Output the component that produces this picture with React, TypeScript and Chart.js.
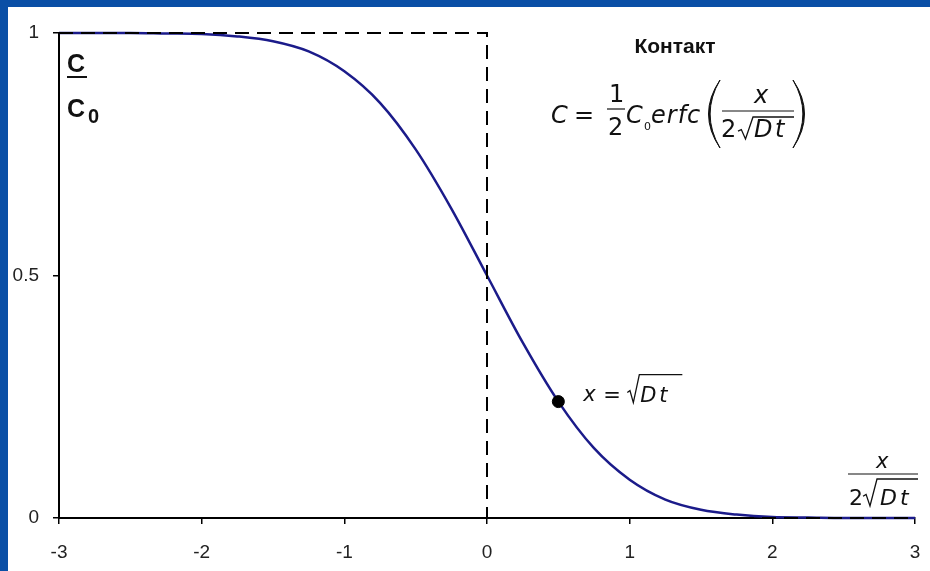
import React, { useEffect, useRef } from "react";
import { Chart, registerables } from "chart.js";

Chart.register(...registerables);

// Normalised concentration C/C0 across the contact, sampled every 0.25 of x/(2√Dt)
const xValues = [
  -3, -2.75, -2.5, -2.25, -2, -1.75, -1.5, -1.25, -1, -0.75, -0.5, -0.25, 0,
  0.25, 0.5, 0.75, 1, 1.25, 1.5, 1.75, 2, 2.25, 2.5, 2.75, 3,
];
const concentration = [
  1, 1, 1, 0.999, 0.998, 0.993, 0.983, 0.962, 0.921, 0.856, 0.76, 0.638, 0.5,
  0.362, 0.24, 0.144, 0.079, 0.038, 0.017, 0.007, 0.002, 0.001, 0, 0, 0,
];

// Initial step profile (dashed)
const stepX = [-3, 0, 0, 3];
const stepY = [1, 1, 0, 0];

// Marked point x = √Dt
const markerX = [0.5];
const markerY = [0.24];

// Tick labels
const xTickValues = [-3, -2, -1, 0, 1, 2, 3];
const xTickLabels = ["-3", "-2", "-1", "0", "1", "2", "3"];
const yTickValues = [0, 0.5, 1];
const yTickLabels = ["0", "0.5", "1"];

const title = "Контакт";

const INK = "#111";
const MATH_FONT = '"DejaVu Sans", Verdana, sans-serif';

function radical(ctx: CanvasRenderingContext2D, x0: number, w: number, yBottom: number, yTop: number, xEnd: number) {
  const h = yBottom - yTop;
  ctx.beginPath();
  ctx.moveTo(x0, yBottom - 0.36 * h);
  ctx.lineTo(x0 + 0.22 * w, yBottom - 0.43 * h);
  ctx.lineTo(x0 + 0.5 * w, yBottom);
  ctx.lineTo(x0 + w, yTop);
  ctx.lineTo(xEnd, yTop);
  ctx.lineWidth = 1.3;
  ctx.strokeStyle = INK;
  ctx.stroke();
}

function paren(ctx: CanvasRenderingContext2D, xEnd: number, xBelly: number, yTop: number, yBot: number) {
  const mid = (yTop + yBot) / 2;
  const inner = xBelly + (xEnd - xBelly) * 0.14;
  ctx.beginPath();
  ctx.moveTo(xEnd, yTop);
  ctx.quadraticCurveTo(xBelly, mid, xEnd, yBot);
  ctx.quadraticCurveTo(inner, mid, xEnd, yTop);
  ctx.fillStyle = INK;
  ctx.fill();
  ctx.lineWidth = 1;
  ctx.strokeStyle = INK;
  ctx.stroke();
}

function hline(ctx: CanvasRenderingContext2D, x1: number, x2: number, y: number, w = 1.2) {
  ctx.beginPath();
  ctx.moveTo(x1, y);
  ctx.lineTo(x2, y);
  ctx.lineWidth = w;
  ctx.strokeStyle = INK;
  ctx.stroke();
}

function text(ctx: CanvasRenderingContext2D, s: string, x: number, y: number, font: string, align: CanvasTextAlign = "left", spacing = "0px") {
  ctx.font = font;
  ctx.textAlign = align;
  ctx.textBaseline = "alphabetic";
  ctx.fillStyle = INK;
  (ctx as any).letterSpacing = spacing;
  ctx.fillText(s, x, y);
  (ctx as any).letterSpacing = "0px";
}

const slidePlugin = {
  id: "slide",
  beforeDraw(chart: Chart) {
    const ctx = chart.ctx;
    ctx.save();
    ctx.fillStyle = "#0a4fa6";
    ctx.fillRect(0, 0, chart.width, chart.height);
    ctx.fillStyle = "#ffffff";
    ctx.fillRect(8, 7, chart.width - 8, chart.height - 7);
    ctx.restore();
  },
  afterDraw(chart: Chart) {
    const ctx = chart.ctx;
    const xs = chart.scales.x;
    const ys = chart.scales.y;
    ctx.save();

    // C / C0 axis caption
    text(ctx, "C", 67, 72, 'bold 25px "Liberation Sans", Arial, sans-serif');
    hline(ctx, 67, 87, 77, 2);
    text(ctx, "C", 67, 117, 'bold 25px "Liberation Sans", Arial, sans-serif');
    text(ctx, "0", 88, 123, 'bold 20px "Liberation Sans", Arial, sans-serif');

    // Title
    text(ctx, title, 675, 53, 'bold 21px "Liberation Sans", Arial, sans-serif', "center");

    // C = 1/2 C0 erfc( x / 2√(Dt) )
    const it24 = `italic 24px ${MATH_FONT}`;
    const up24 = `24px ${MATH_FONT}`;
    text(ctx, "C", 551, 123, it24);
    text(ctx, "=", 574, 123, up24);
    text(ctx, "1", 609, 102, up24);
    hline(ctx, 607, 625, 109);
    text(ctx, "2", 608, 135, up24);
    text(ctx, "C", 626, 123, it24);
    text(ctx, "0", 644, 130, `11px ${MATH_FONT}`);
    text(ctx, "erfc", 651, 123, it24, "left", "1px");
    paren(ctx, 720, 697, 80, 148);
    text(ctx, "x", 754, 103, it24);
    hline(ctx, 722, 794, 111);
    text(ctx, "2", 721, 137, up24);
    radical(ctx, 738, 15, 139, 117, 794);
    text(ctx, "D", 754, 137, it24);
    text(ctx, "t", 775, 137, it24);
    paren(ctx, 793, 816, 80, 148);

    // x = √(Dt) next to the marked point
    const px = xs.getPixelForValue(markerX[0]);
    const py = ys.getPixelForValue(markerY[0]);
    const it21 = `italic 21px ${MATH_FONT}`;
    text(ctx, "x", px + 25, py - 1, it21);
    text(ctx, "=", px + 45, py, `21px ${MATH_FONT}`);
    radical(ctx, px + 69, 12, py + 1, py - 27, px + 124);
    text(ctx, "D", px + 82, py, it21);
    text(ctx, "t", px + 101, py, it21);

    // Axis variable x / 2√(Dt)
    text(ctx, "x", 876, 468, `italic 21px ${MATH_FONT}`);
    hline(ctx, 848, 918, 474);
    text(ctx, "2", 849, 505, `22px ${MATH_FONT}`);
    radical(ctx, 863, 14, 506, 479, 918);
    text(ctx, "D", 880, 505, `italic 22px ${MATH_FONT}`);
    text(ctx, "t", 900, 505, `italic 22px ${MATH_FONT}`);

    ctx.restore();
  },
};

export default function App() {
  const canvasRef = useRef<HTMLCanvasElement | null>(null);

  useEffect(() => {
    const canvas = canvasRef.current;
    if (!canvas) return;

    const tickFont = { family: '"Liberation Sans", Arial, sans-serif', size: 19 };

    const chart = new Chart(canvas, {
      type: "line",
      data: {
        datasets: [
          {
            label: "x = √Dt",
            data: markerX.map((x, i) => ({ x, y: markerY[i] })),
            showLine: false,
            pointRadius: 6,
            pointBackgroundColor: "#000",
            pointBorderColor: "#000",
          },
          {
            label: "step",
            data: stepX.map((x, i) => ({ x, y: stepY[i] })),
            borderColor: "#000",
            borderWidth: 2,
            borderDash: [14, 8],
            pointRadius: 0,
            tension: 0,
            clip: false,
          },
          {
            label: "C/C0",
            data: xValues.map((x, i) => ({ x, y: concentration[i] })),
            borderColor: "#1b1b8a",
            borderWidth: 2.5,
            pointRadius: 0,
            cubicInterpolationMode: "monotone",
            clip: false,
          },
        ],
      },
      options: {
        responsive: false,
        animation: false,
        events: [],
        layout: { padding: { left: 8, top: 33, right: 15, bottom: 0 } },
        plugins: { legend: { display: false }, tooltip: { enabled: false } },
        scales: {
          x: {
            type: "linear",
            min: -3,
            max: 3,
            afterFit: (s: any) => {
              s.height = 53;
              s.paddingLeft = 0;
              s.paddingRight = 0;
            },
            afterBuildTicks: (s: any) => {
              s.ticks = xTickValues.map((v) => ({ value: v }));
            },
            ticks: {
              font: tickFont,
              color: "#222",
              padding: 17,
              maxRotation: 0,
              callback: (v: any) => xTickLabels[xTickValues.indexOf(Number(v))] ?? "",
            },
            grid: { drawOnChartArea: false, drawTicks: true, tickLength: 6, color: "#000", lineWidth: 1.5 },
            border: { display: true, color: "#000", width: 2 },
          },
          y: {
            type: "linear",
            min: 0,
            max: 1,
            afterFit: (s: any) => {
              s.width = 51;
              s.paddingTop = 0;
              s.paddingBottom = 0;
            },
            afterBuildTicks: (s: any) => {
              s.ticks = yTickValues.map((v) => ({ value: v }));
            },
            ticks: {
              font: tickFont,
              color: "#222",
              padding: 14,
              callback: (v: any) => yTickLabels[yTickValues.indexOf(Number(v))] ?? "",
            },
            grid: { drawOnChartArea: false, drawTicks: true, tickLength: 6, color: "#000", lineWidth: 1.5 },
            border: { display: true, color: "#000", width: 2 },
          },
        },
      },
      plugins: [slidePlugin],
    });

    return () => chart.destroy();
  }, []);

  return (
    <div style={{ position: "fixed", left: 0, top: 0, width: 930, height: 571 }}>
      <canvas ref={canvasRef} width={930} height={571} style={{ display: "block", width: 930, height: 571 }} />
    </div>
  );
}
